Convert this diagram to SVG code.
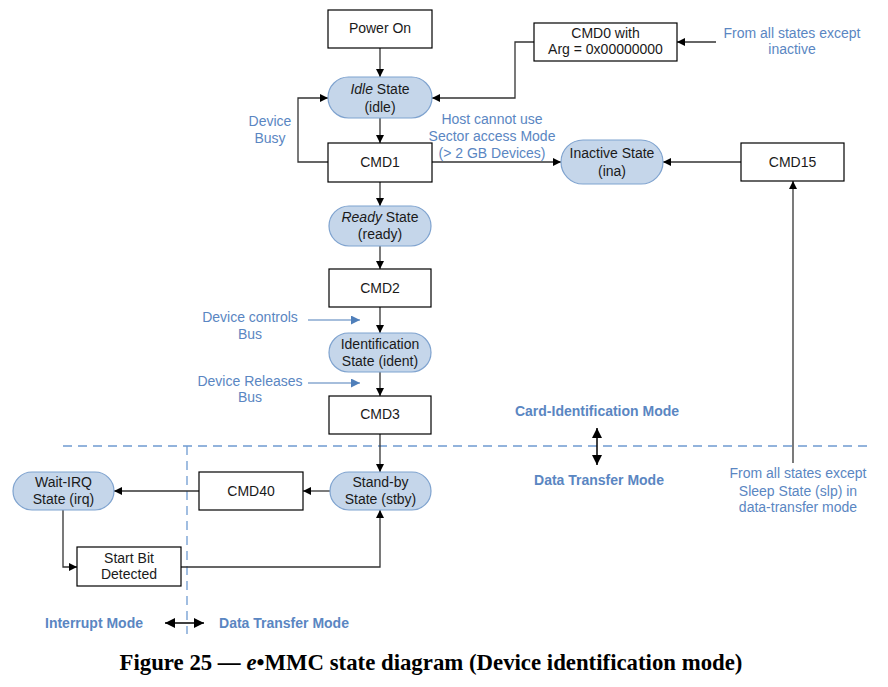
<svg xmlns="http://www.w3.org/2000/svg" width="888" height="687" viewBox="0 0 888 687">
<defs>
<marker id="ah" viewBox="0 0 10 10" refX="10" refY="5" markerWidth="9" markerHeight="8" markerUnits="userSpaceOnUse" orient="auto-start-reverse"><path d="M0,0 L10,5 L0,10 Z" fill="#000"/></marker>
<marker id="bh" viewBox="0 0 10 10" refX="10" refY="5" markerWidth="11" markerHeight="9" markerUnits="userSpaceOnUse" orient="auto"><path d="M0,0 L10,5 L0,10 Z" fill="#4f7fba"/></marker>
<marker id="dh" viewBox="0 0 10 10" refX="10" refY="5" markerWidth="12" markerHeight="10" markerUnits="userSpaceOnUse" orient="auto-start-reverse"><path d="M0,0 L10,5 L0,10 Z" fill="#000"/></marker>
</defs>
<style>
.box{fill:#fff;stroke:#000;stroke-width:1.2}
.pill{fill:#c5d6ea;stroke:#7fa3cf;stroke-width:1.2}
.t{font-family:"Liberation Sans",Arial,sans-serif;font-size:14px;fill:#1a1a1a;text-anchor:middle}
.b{font-family:"Liberation Sans",Arial,sans-serif;font-size:14px;fill:#5a86c2;text-anchor:middle}
.bb{font-family:"Liberation Sans",Arial,sans-serif;font-size:14px;font-weight:bold;fill:#5a86c2;text-anchor:middle}
.ln{fill:none;stroke:#333;stroke-width:1.3}
.dash{fill:none;stroke:#6f9bd1;stroke-width:1.3;stroke-dasharray:9,6}
.cap{font-family:"Liberation Serif","Times New Roman",serif;font-size:22.8px;font-weight:bold;fill:#000;text-anchor:middle}
</style>
<rect width="888" height="687" fill="#fff"/>

<g id="mode-dividers">
<path class="dash" d="M63,446 H872"/>
<path class="dash" d="M187,446 V634"/>
</g>

<g id="connectors">
<path class="ln" d="M380,48 V77" marker-end="url(#ah)"/>
<path class="ln" d="M380,118 V143" marker-end="url(#ah)"/>
<path class="ln" d="M534,42 H515 V98 H432" marker-end="url(#ah)"/>
<path class="ln" d="M716,42 H677" marker-end="url(#ah)"/>
<path class="ln" d="M328,162 H298 V98 H328" marker-end="url(#ah)"/>
<path class="ln" d="M432,162 H561" marker-end="url(#ah)"/>
<path class="ln" d="M741,162 H663" marker-end="url(#ah)"/>
<path class="ln" d="M793,463 V181" marker-end="url(#ah)"/>
<path class="ln" d="M380,182 V206" marker-end="url(#ah)"/>
<path class="ln" d="M380,246 V269" marker-end="url(#ah)"/>
<path class="ln" d="M380,307 V333" marker-end="url(#ah)"/>
<path class="ln" d="M380,372 V396" marker-end="url(#ah)"/>
<path class="ln" d="M380,434 V472" marker-end="url(#ah)"/>
<path class="ln" d="M330,491 H303" marker-end="url(#ah)"/>
<path class="ln" d="M199,491 H114" marker-end="url(#ah)"/>
<path class="ln" d="M63,510 V567 H77" marker-end="url(#ah)"/>
<path class="ln" d="M181,567 H380 V510" marker-end="url(#ah)"/>
<path d="M308,320 H360" fill="none" stroke="#4f7fba" stroke-width="1.2" marker-end="url(#bh)"/>
<path d="M308,383 H360" fill="none" stroke="#4f7fba" stroke-width="1.2" marker-end="url(#bh)"/>
<path d="M165,623 H204" fill="none" stroke="#000" stroke-width="1.5" marker-start="url(#dh)" marker-end="url(#dh)"/>
<path d="M597,428 V465" fill="none" stroke="#000" stroke-width="1.5" marker-start="url(#dh)" marker-end="url(#dh)"/>
</g>

<g id="power-on"><rect class="box" x="328" y="10" width="104" height="38"/><text class="t" x="380" y="33">Power On</text></g>
<g id="cmd0"><rect class="box" x="534" y="23" width="143" height="38"/><text class="t" x="605.5" y="38">CMD0 with</text><text class="t" x="605.5" y="54">Arg = 0x00000000</text></g>
<g id="idle"><rect class="pill" x="328" y="77" width="104" height="41" rx="20.5"/><text class="t" x="380" y="94"><tspan font-style="italic">Idle</tspan> State</text><text class="t" x="380" y="112">(idle)</text></g>
<g id="cmd1"><rect class="box" x="328" y="143" width="104" height="39"/><text class="t" x="380" y="167">CMD1</text></g>
<g id="inactive"><rect class="pill" x="561" y="140" width="102" height="44" rx="22"/><text class="t" x="612" y="158">Inactive State</text><text class="t" x="612" y="176">(ina)</text></g>
<g id="cmd15"><rect class="box" x="741" y="143" width="103" height="38"/><text class="t" x="792.5" y="167">CMD15</text></g>
<g id="ready"><rect class="pill" x="329" y="206" width="102" height="40" rx="20"/><text class="t" x="380" y="222"><tspan font-style="italic">Ready</tspan> State</text><text class="t" x="380" y="239">(ready)</text></g>
<g id="cmd2"><rect class="box" x="329" y="269" width="102" height="38"/><text class="t" x="380" y="293">CMD2</text></g>
<g id="ident"><rect class="pill" x="329" y="333" width="102" height="39" rx="19.5"/><text class="t" x="380" y="349">Identification</text><text class="t" x="380" y="366">State (ident)</text></g>
<g id="cmd3"><rect class="box" x="329" y="396" width="102" height="38"/><text class="t" x="380" y="419">CMD3</text></g>
<g id="standby"><rect class="pill" x="330" y="472" width="101" height="38" rx="19"/><text class="t" x="380.5" y="487">Stand-by</text><text class="t" x="380.5" y="504">State (stby)</text></g>
<g id="cmd40"><rect class="box" x="199" y="472" width="104" height="38"/><text class="t" x="251" y="496">CMD40</text></g>
<g id="waitirq"><rect class="pill" x="13" y="472" width="101" height="38" rx="19"/><text class="t" x="63.5" y="487">Wait-IRQ</text><text class="t" x="63.5" y="504">State (irq)</text></g>
<g id="startbit"><rect class="box" x="77" y="547" width="104" height="39"/><text class="t" x="129" y="563">Start Bit</text><text class="t" x="129" y="579">Detected</text></g>

<g id="labels">
<text class="b" x="270" y="126">Device</text><text class="b" x="270" y="143">Busy</text>
<text class="b" x="492" y="124">Host cannot use</text><text class="b" x="492" y="141">Sector access Mode</text><text class="b" x="492" y="158">(&gt; 2 GB Devices)</text>
<text class="b" x="792" y="38">From all states except</text><text class="b" x="792" y="54">inactive</text>
<text class="b" x="250" y="322">Device controls</text><text class="b" x="250" y="339">Bus</text>
<text class="b" x="250" y="386">Device Releases</text><text class="b" x="250" y="402">Bus</text>
<text class="b" x="798" y="478">From all states except</text><text class="b" x="798" y="496">Sleep State (slp) in</text><text class="b" x="798" y="512">data-transfer mode</text>
<text class="bb" x="597" y="416">Card-Identification Mode</text>
<text class="bb" x="599" y="485">Data Transfer Mode</text>
<text class="bb" x="94" y="628">Interrupt Mode</text>
<text class="bb" x="284" y="628">Data Transfer Mode</text>
</g>
<text class="cap" x="431" y="670">Figure 25 — <tspan font-style="italic">e</tspan>•MMC state diagram (Device identification mode)</text>
</svg>
